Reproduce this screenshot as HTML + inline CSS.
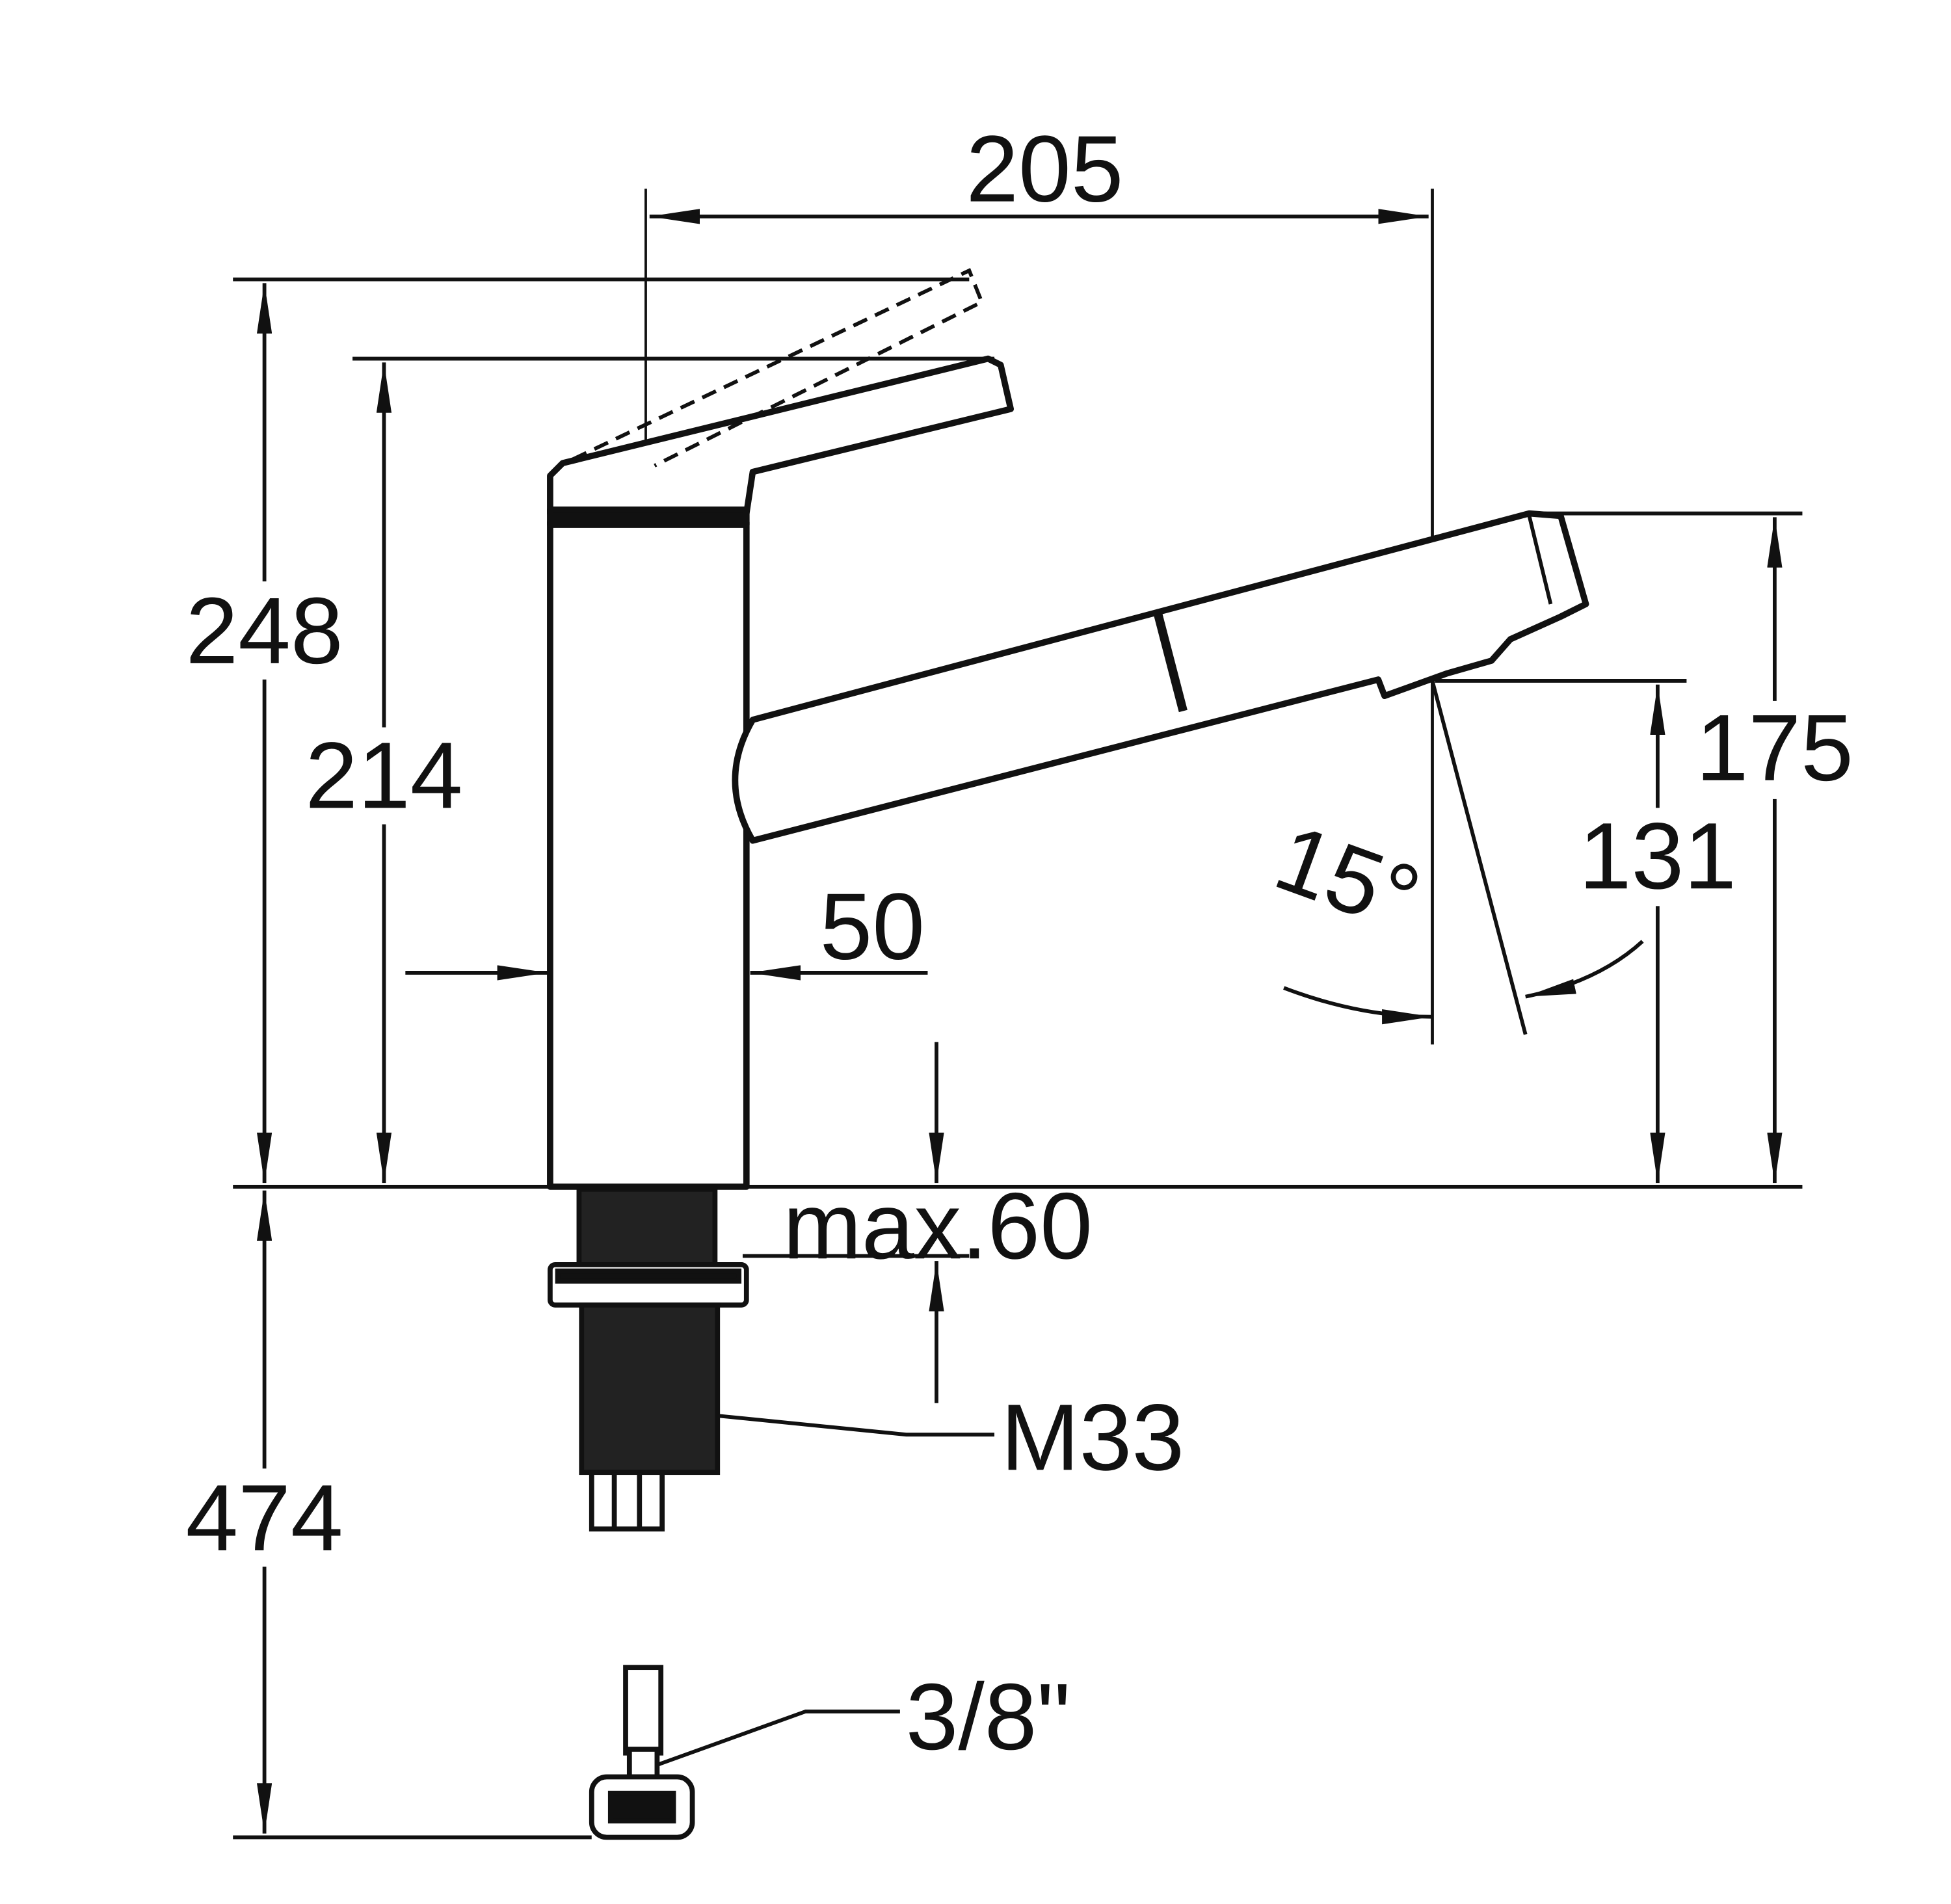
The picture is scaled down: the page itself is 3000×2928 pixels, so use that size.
<!DOCTYPE html>
<html><head><meta charset="utf-8"><style>
html,body{margin:0;padding:0;background:#fff;}
svg{display:block;}
text{font-family:"Liberation Sans",sans-serif;font-size:75px;fill:#111;}
</style></head><body>
<svg width="3000" height="2928" viewBox="0 0 1550 1513" xmlns="http://www.w3.org/2000/svg">
<defs>
<marker id="a" viewBox="0 0 40 12" refX="40" refY="6" markerWidth="40" markerHeight="12" markerUnits="userSpaceOnUse" orient="auto-start-reverse">
<path d="M0,0 L40,6 L0,12 Z" fill="#111"/></marker>
</defs>
<g stroke="#111" stroke-width="3" fill="none">
<line x1="185" y1="943" x2="1432" y2="943"/>
<line x1="185" y1="1460" x2="470" y2="1460"/>
<line x1="185" y1="222" x2="770" y2="222"/>
<line x1="280" y1="285" x2="790" y2="285"/>
<line x1="513" y1="150" x2="513" y2="452" stroke-width="2"/>
<line x1="1138" y1="150" x2="1138" y2="830" stroke-width="2.5"/>
<line x1="1215" y1="408" x2="1432" y2="408"/>
<line x1="1140" y1="541" x2="1340" y2="541"/>
<line x1="210" y1="225" x2="210" y2="462" marker-start="url(#a)"/>
<line x1="210" y1="540" x2="210" y2="940" marker-end="url(#a)"/>
<line x1="305" y1="288" x2="305" y2="578" marker-start="url(#a)"/>
<line x1="305" y1="655" x2="305" y2="940" marker-end="url(#a)"/>
<line x1="210" y1="946" x2="210" y2="1167" marker-start="url(#a)"/>
<line x1="210" y1="1245" x2="210" y2="1457" marker-end="url(#a)"/>
<line x1="516" y1="172" x2="1135" y2="172" marker-start="url(#a)" marker-end="url(#a)"/>
<line x1="1410" y1="411" x2="1410" y2="557" marker-start="url(#a)"/>
<line x1="1410" y1="635" x2="1410" y2="940" marker-end="url(#a)"/>
<line x1="1317" y1="544" x2="1317" y2="642" marker-start="url(#a)"/>
<line x1="1317" y1="720" x2="1317" y2="940" marker-end="url(#a)"/>
<line x1="322" y1="773" x2="435" y2="773" marker-end="url(#a)"/>
<line x1="737" y1="773" x2="596" y2="773" marker-end="url(#a)"/>
<line x1="744" y1="828" x2="744" y2="940" marker-end="url(#a)"/>
<line x1="744" y1="1115" x2="744" y2="1002" marker-end="url(#a)"/>
<line x1="590" y1="998" x2="770" y2="998"/>
<polyline points="570,1125 720,1140 790,1140"/>
<polyline points="515,1405 640,1360 715,1360"/>
<line x1="1138" y1="541" x2="1212" y2="822"/>
<path d="M1020,785 Q1080,808 1138,808" marker-end="url(#a)"/>
<path d="M1305,748 Q1270,780 1212,792" marker-end="url(#a)"/>
</g>
<g stroke="#111" stroke-width="5" fill="#fff" stroke-linejoin="round">
<rect x="437" y="415" width="156" height="528"/>
<path d="M437,408 L437,378 L447,368 L785,285 L795,290 L803,325 L598,375 L593,408 Z"/>
<rect x="437" y="405" width="156" height="12" fill="#111"/>
<path d="M598,572 L1215,408 L1240,410 L1260,480 L1240,490 L1200,508 L1185,525 L1150,535 L1100,553 L1095,540 L598,668 Q570,620 598,572 Z"/>
<line x1="920" y1="488" x2="940" y2="565" stroke-width="7"/>
<path d="M1215,410 L1232,480" stroke-width="3" fill="none"/>
</g>
<path d="M455,365 L770,215 L780,240 L520,370" stroke="#111" stroke-width="3" stroke-dasharray="12,7" fill="none"/>
<g stroke="#111" stroke-width="4">
<rect x="460" y="945" width="108" height="60" fill="#222"/>
<rect x="437" y="1005" width="156" height="32" fill="#fff" rx="4"/>
<rect x="443" y="1010" width="144" height="8" fill="#111"/>
<rect x="462" y="1037" width="108" height="133" fill="#222"/>
<rect x="470" y="1170" width="56" height="45" fill="#fff"/>
<line x1="488" y1="1170" x2="488" y2="1215"/>
<line x1="508" y1="1170" x2="508" y2="1215"/>
<rect x="497" y="1325" width="28" height="68" fill="#fff"/>
<rect x="500" y="1390" width="22" height="22" fill="#fff"/>
<rect x="470" y="1412" width="80" height="48" rx="12" fill="#fff"/>
<rect x="485" y="1425" width="50" height="22" fill="#111"/>
</g>
<g text-anchor="middle">
<text x="830" y="160">205</text>
<text x="210" y="527">248</text>
<text x="305" y="642">214</text>
<text x="210" y="1232">474</text>
<text x="1410" y="620">175</text>
<text x="1317" y="706">131</text>
<text x="693" y="762">50</text>
<text x="745" y="1000">max.60</text>
<text x="868" y="1168">M33</text>
<text x="785" y="1390">3/8"</text>
<text x="0" y="0" transform="translate(1062,722) rotate(20)">15°</text>
</g>
</svg>
</body></html>
